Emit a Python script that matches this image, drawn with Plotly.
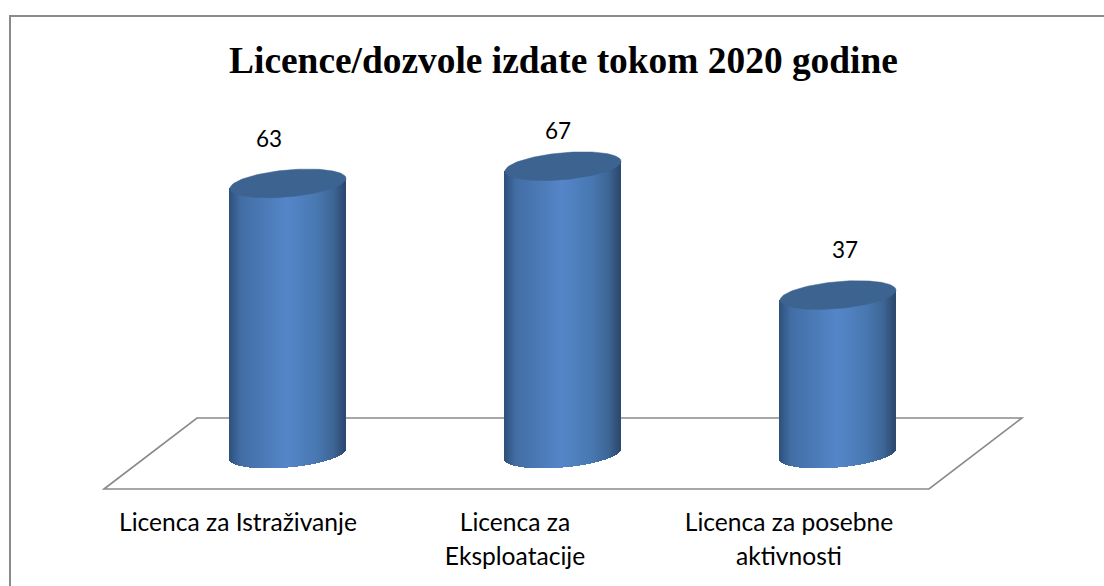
import numpy as np
import plotly.graph_objects as go

categories = ["Licenca za Istraživanje", "Licenca za<br>Eksploatacije", "Licenca za posebne<br>aktivnosti"]
values = [63, 67, 37]
title_text = "Licence/dozvole izdate tokom 2020 godine"

W, H = 1104, 586
PX_PER_CAT = 275.0
PX_PER_UNIT = 4.295
CAT1_PX = 288.0
ZERO_PX = 454.0
AXIS_PX = 504.0

x_range = [1 - CAT1_PX / PX_PER_CAT, 1 + (W - CAT1_PX) / PX_PER_CAT]
y_range = [(ZERO_PX - AXIS_PX) / PX_PER_UNIT, ZERO_PX / PX_PER_UNIT]

half_w = 58.0 / PX_PER_CAT
ell_b = 13.5 / PX_PER_UNIT
ell_k = 5.0 / PX_PER_UNIT

stops = [(0.0, (0x2e, 0x50, 0x7c)), (0.1, (0x42, 0x6e, 0xa4)), (0.5, (0x55, 0x86, 0xc9)),
         (0.75, (0x49, 0x79, 0xb2)), (0.9, (0x3e, 0x66, 0x96)), (1.0, (0x2c, 0x49, 0x6e))]
def shade(t):
    pos = [s[0] for s in stops]
    return "rgb(%d,%d,%d)" % tuple(np.interp(t, pos, [s[1][i] for s in stops]) for i in range(3))

fig = go.Figure()
n = 116
for i, v in enumerate(values):
    cx = i + 1
    ts = (np.arange(n) + 0.5) / n
    u = 2 * ts - 1
    sag = np.sqrt(1 - u ** 2)
    base = ell_k * u - ell_b * sag
    top = v + ell_k * u
    fig.add_trace(go.Bar(x=cx + u * half_w, y=top - base, base=base,
                         width=1.3 / PX_PER_CAT, marker=dict(color=[shade(t) for t in ts], line_width=0),
                         showlegend=False, hoverinfo="skip"))
    th = np.linspace(0, 2 * np.pi, 121)
    fig.add_trace(go.Scatter(x=cx + half_w * np.cos(th),
                             y=v + ell_k * np.cos(th) + ell_b * np.sin(th),
                             mode="lines", fill="toself", fillcolor="#3d6491",
                             line=dict(color="#3d6491", width=0.5), showlegend=False, hoverinfo="skip"))

def px(x): return x / W
def py(y): return 1 - y / H
GREY = "#8a8a8a"
shapes = [
    dict(type="path", xref="paper", yref="paper", layer="below",
         path=f"M {px(104)} {py(489)} L {px(197)} {py(418)} L {px(1022)} {py(418)} L {px(929)} {py(489)} Z",
         line=dict(color=GREY, width=1.6), fillcolor="white"),
    dict(type="path", xref="paper", yref="paper", layer="below",
         path=f"M {px(10)} {py(586)} L {px(10)} {py(16)} L {px(1104)} {py(16)}",
         line=dict(color=GREY, width=2)),
]

label_shift = [(-19, 45), (-5, 36), (7, 46)]
annotations = [dict(x=i + 1, y=v, xref="x", yref="y", text=str(v), showarrow=False,
                    xshift=label_shift[i][0], yshift=label_shift[i][1],
                    font=dict(family="Lato", size=22.5, color="black"))
               for i, v in enumerate(values)]

def tick(t):
    return "<br>".join(f'<span style="font-size:24.6px">{p}</span>' for p in t.split("<br>"))

tick_px_offset = [-50, -48, -49]
tick_positions = [i + 1 + d / PX_PER_CAT for i, d in enumerate(tick_px_offset)]

fig.update_layout(
    width=W, height=H, autosize=False,
    margin=dict(l=0, r=0, t=0, b=0),
    paper_bgcolor="white", plot_bgcolor="rgba(0,0,0,0)",
    barmode="overlay", bargap=0,
    title=dict(text=f"<b>{title_text}</b>", x=563.5 / W, xanchor="center", y=py(60), yanchor="middle",
               font=dict(family="Liberation Serif", size=37.4, color="black")),
    xaxis=dict(range=x_range, tickvals=tick_positions, ticktext=[tick(c) for c in categories], showgrid=False,
               zeroline=False, showline=False, ticks="", tickangle=0,
               tickfont=dict(family="Lato", size=26, color="black"), fixedrange=True),
    yaxis=dict(range=y_range, domain=[(H - AXIS_PX) / H, 1], visible=False, fixedrange=True),
    shapes=shapes, annotations=annotations,
)
fig.write_html("out.html", config=dict(displayModeBar=False),
               post_script="document.body.style.margin='0';document.documentElement.style.overflow='hidden';")
